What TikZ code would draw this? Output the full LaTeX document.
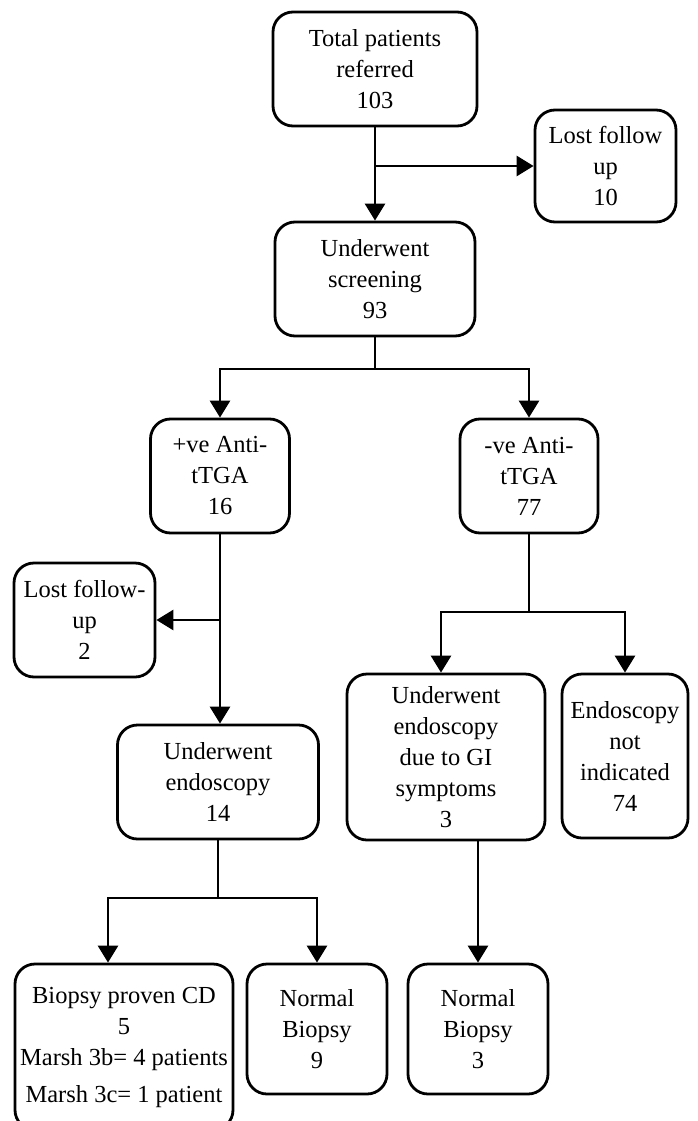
\documentclass[tikz,border=0pt]{standalone}
\usepackage{fontspec}
\setmainfont{Liberation Serif}
\usepackage{tikz}
\usetikzlibrary{arrows.meta}
\usetikzlibrary{calc}
\tikzstyle{box}=[draw,rectangle,rounded corners=20pt,line width=2.8pt,inner sep=0pt,align=center,font=\fontsize{24.5}{31}\selectfont]
\tikzstyle{edge} = [draw,line width=2.8pt,-{Triangle[length=17pt,width=20pt]}]
\tikzstyle{link} = [draw,line width=2.8pt]

\begin{document}
\begin{tikzpicture}[x=1pt,y=-1pt]
\useasboundingbox (0,0) rectangle (697,1121);

    % boxes
    \foreach \pos/\name/\w/\h/\txt in {
        {(375,69)/total/204/114/{Total patients\\referred\\103}},
        {(605.5,166)/lost1/141/112/{Lost follow\\up\\10}},
        {(375,279)/screen/200/114/{Underwent\\screening\\93}},
        {(220,476)/pos/139/114/{+ve Anti-\\tTGA\\16}},
        {(529,476)/neg/138/114/{-ve Anti-\\tTGA\\77}},
        {(84.5,620)/lost2/141/114/{Lost follow-\\up\\2}},
        {(218,782)/endo/201/114/{Underwent\\endoscopy\\14}},
        {(446,757)/gi/198/166/{Underwent\\endoscopy\\due to GI\\symptoms\\3}},
        {(625,756)/notind/126/164/{Endoscopy\\not\\indicated\\74}},
        {(124,1047)/cd/218/166/{Biopsy proven CD\\5\\Marsh 3b= 4 patients\\[6pt]Marsh 3c= 1 patient}},
        {(317,1029)/normA/140/130/{Normal\\Biopsy\\9}},
        {(478,1029)/normB/140/130/{Normal\\Biopsy\\3}}}
        \node[box,minimum width=\w pt,minimum height=\h pt] (\name) at \pos {\txt};

    % junctions
    \coordinate (jscreen) at (375,369);
    \coordinate (jneg) at (529,612);
    \coordinate (jendo) at (218,898);

    % connectors
    \path[edge] (total.south) -- (screen.north);
    \path[edge] (lost1.west -| total.south) -- (lost1.west);

    \path[link] (screen.south) -- (jscreen);
    \path[edge] (jscreen) -| (pos.north);
    \path[edge] (jscreen) -| (neg.north);

    \path[edge] (pos.south) -- (pos.south |- endo.north);
    \path[edge] (pos.south |- lost2.east) -- (lost2.east);

    \path[link] (neg.south) -- (jneg);
    \path[edge] (jneg) -| ([xshift=-5pt]gi.north);
    \path[edge] (jneg) -| (notind.north);

    \path[link] (endo.south) -- (jendo);
    \path[edge] (jendo) -| ([xshift=-16pt]cd.north);
    \path[edge] (jendo) -| (normA.north);

    \path[edge] (gi.south -| normB.north) -- (normB.north);

\end{tikzpicture}
\end{document}
